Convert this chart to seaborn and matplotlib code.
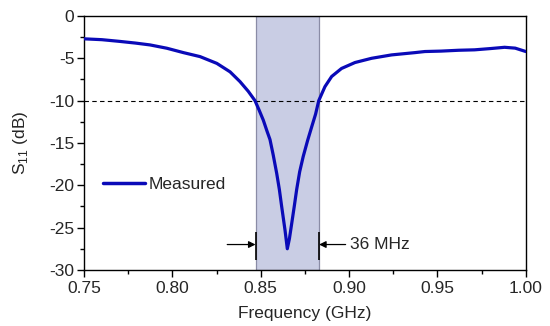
import numpy as np
import pandas as pd
import matplotlib
matplotlib.use('Agg')
import matplotlib.pyplot as plt
from matplotlib.ticker import MultipleLocator, FormatStrFormatter
import seaborn as sns

# ===== data =====
freq_ghz = [0.750, 0.760, 0.770, 0.779, 0.7873, 0.7968, 0.8062, 0.8156, 0.8251, 0.8326,
            0.8382, 0.8429, 0.8467, 0.849, 0.8514, 0.8535, 0.8552, 0.857, 0.859, 0.8605,
            0.8618, 0.8637, 0.8650, 0.8662, 0.8675, 0.869, 0.8703, 0.872, 0.874, 0.8765,
            0.8788, 0.881, 0.8828, 0.8863, 0.8901, 0.8957, 0.9033, 0.9127, 0.924, 0.9372,
            0.9429, 0.952, 0.962, 0.971, 0.980, 0.988, 0.994, 1.000]
s11_db = [-2.7, -2.8, -3.0, -3.2, -3.42, -3.81, -4.33, -4.8, -5.6, -6.6,
          -7.75, -8.9, -10.0, -11.1, -12.3, -13.6, -14.6, -16.4, -18.6, -20.5,
          -22.5, -25.3, -27.5, -26.3, -24.5, -22.4, -20.5, -18.4, -16.6, -14.7,
          -13.1, -11.6, -10.0, -8.35, -7.15, -6.2, -5.5, -5.0, -4.6, -4.33,
          -4.2, -4.15, -4.05, -4.0, -3.85, -3.7, -3.8, -4.2]
band = [0.847, 0.883]        # -10 dB bandwidth, GHz
threshold = -10
bw_label = '36 MHz'
series_name = 'Measured'

df = pd.DataFrame({'Frequency': freq_ghz, 'S11': s11_db})

sns.set_theme(style='ticks')
plt.rcParams['font.family'] = ['Liberation Sans', 'DejaVu Sans']
plt.rcParams['mathtext.fontset'] = 'custom'
plt.rcParams['mathtext.rm'] = 'Liberation Sans'
plt.rcParams['axes.unicode_minus'] = False

fig = plt.figure(figsize=(5.5, 3.26), dpi=100)
ax = fig.add_axes([0.153, 0.172, 0.803, 0.779])

# shaded band
ax.axvspan(band[0], band[1], facecolor='#c9cde4', edgecolor='#8a8ca6', lw=0.9, zorder=1)
# -10 dB line
ax.axhline(threshold, color='black', lw=0.8, ls=(0, (4, 3)), zorder=2)

sns.lineplot(data=df, x='Frequency', y='S11', ax=ax, color='#0a0ab8', lw=2.3,
             label=series_name, zorder=3)

# bandwidth arrows
y_arr = -27.0
ax.annotate('', xy=(band[0], y_arr), xytext=(band[0] - 0.016, y_arr),
            arrowprops=dict(arrowstyle='-|>', color='black', lw=0.9, mutation_scale=10,
                            shrinkA=0, shrinkB=0))
ax.annotate('', xy=(band[1], y_arr), xytext=(band[1] + 0.015, y_arr),
            arrowprops=dict(arrowstyle='-|>', color='black', lw=0.9, mutation_scale=10,
                            shrinkA=0, shrinkB=0))
ax.vlines(band, -28.8, -25.5, color='black', lw=1.2, zorder=4)
ax.text(band[1] + 0.0175, y_arr, bw_label, fontsize=12.5, va='center', ha='left')

ax.set_xlim(0.75, 1.00)
ax.set_ylim(-30, 0)
ax.xaxis.set_major_locator(MultipleLocator(0.05))
ax.xaxis.set_minor_locator(MultipleLocator(0.025))
ax.xaxis.set_major_formatter(FormatStrFormatter('%.2f'))
ax.yaxis.set_major_locator(MultipleLocator(5))
ax.yaxis.set_minor_locator(MultipleLocator(2.5))
ax.tick_params(which='major', length=5, width=1, labelsize=12.5, color='black', pad=2)
ax.tick_params(axis='x', which='major', pad=3)
ax.tick_params(which='minor', length=3, width=1, color='black')
for sp in ax.spines.values():
    sp.set_visible(True)
    sp.set_color('black')
    sp.set_linewidth(1.0)

ax.set_xlabel('Frequency (GHz)', fontsize=12.5, labelpad=7)
ax.set_ylabel(r'S$_{\mathregular{11}}$ (dB)', fontsize=12.5, labelpad=14)

leg = ax.legend(loc='center left', bbox_to_anchor=(0.008, 0.335), frameon=False,
                fontsize=12.5, handlelength=2.4, handletextpad=0.2)
for h in leg.get_lines():
    h.set_linewidth(2.5)

fig.savefig('out.png', dpi=100)
